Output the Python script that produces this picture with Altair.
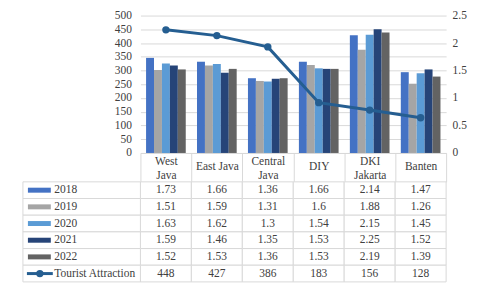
import altair as alt
import pandas as pd

# ---------------- data ----------------
cats = ["West Java", "East Java", "Central Java", "DIY", "DKI Jakarta", "Banten"]
header_lines = [["West", "Java"], ["East Java"], ["Central", "Java"], ["DIY"], ["DKI", "Jakarta"], ["Banten"]]
series_names = ["2018", "2019", "2020", "2021", "2022"]
v2018 = [1.73, 1.66, 1.36, 1.66, 2.14, 1.47]
v2019 = [1.51, 1.59, 1.31, 1.6, 1.88, 1.26]
v2020 = [1.63, 1.62, 1.3, 1.54, 2.15, 1.45]
v2021 = [1.59, 1.46, 1.35, 1.53, 2.25, 1.52]
v2022 = [1.52, 1.53, 1.36, 1.53, 2.19, 1.39]
line_name = "Tourist Attraction"
tourist = [448, 427, 386, 183, 156, 128]

bar_colors = ["#4472C4", "#A5A5A5", "#5B9BD5", "#264478", "#636363"]
line_color = "#255E91"

# ---------------- frames ----------------
series_vals = dict(zip(series_names, [v2018, v2019, v2020, v2021, v2022]))
bars_df = pd.DataFrame([{"cat": c, "series": s, "value": v}
                        for s in series_names for c, v in zip(cats, series_vals[s])])
line_df = pd.DataFrame({"cat": cats, "value": tourist})
rows_order = series_names + [line_name]
table_df = pd.DataFrame(
    [{"cat": c, "series": s, "text": str(v)} for s in series_names for c, v in zip(cats, series_vals[s])]
    + [{"cat": c, "series": line_name, "text": str(v)} for c, v in zip(cats, tourist)]
)
rows_df = pd.DataFrame({"series": rows_order})
sw_df = pd.DataFrame({"series": series_names})
tsw_df = pd.DataFrame({"series": [line_name]})

# ---------------- style ----------------
FONT = "Liberation Serif"
FS = 11.5
TXT = "#404040"
GRID = "#d9d9d9"
W, H = 307, 138
HDR = 29
ROW_H = 16.75
table_range = [H + HDR, H + HDR + ROW_H * len(rows_order)]

def _lbl(lines):
    if len(lines) == 1:
        return "'" + lines[0] + "'"
    return "[" + ",".join("'" + t + "'" for t in lines) + "]"

label_expr = ""
for c, lines in zip(cats, header_lines):
    label_expr += "datum.label == '" + c + "' ? " + _lbl(lines) + " : "
label_expr += "datum.label"

two_line = [c for c, lines in zip(cats, header_lines) if len(lines) > 1]
two_line_test = " || ".join("datum.value == '" + c + "'" for c in two_line)

xscale = alt.Scale(domain=cats, paddingInner=0, paddingOuter=0)
xaxis = alt.Axis(title=None, labelAngle=0, labelExpr=label_expr, labelFont=FONT, labelFontSize=FS,
                 labelColor=TXT,
                 labelBaseline={"condition": {"test": two_line_test, "value": "bottom"}, "value": "middle"},
                 labelLineHeight=14, labelPadding=-15,
                 tickBand="extent", tickSize=HDR, tickColor=GRID, domainColor=GRID, grid=False)
x_enc = alt.X("cat:N", sort=cats, scale=xscale, axis=xaxis)
color_scale = alt.Scale(domain=series_names, range=bar_colors)

bars = alt.Chart(bars_df).mark_bar().encode(
    x=x_enc,
    xOffset=alt.XOffset("series:N", sort=series_names,
                        scale=alt.Scale(paddingInner=0, paddingOuter=0.71)),
    y=alt.Y("value:Q", scale=alt.Scale(domain=[0, 2.5], nice=False),
            axis=alt.Axis(orient="right", values=[0, 0.5, 1, 1.5, 2, 2.5], format=".1~f", title=None,
                          grid=False, domain=False, ticks=False, labelPadding=6,
                          labelFont=FONT, labelFontSize=FS, labelColor=TXT)),
    color=alt.Color("series:N", scale=color_scale, legend=None),
)

line_y = alt.Y("value:Q", scale=alt.Scale(domain=[0, 500], nice=False),
               axis=alt.Axis(orient="left", values=list(range(0, 501, 50)), title=None, grid=True,
                             gridColor=GRID, domain=False, ticks=False, labelPadding=9,
                             labelFont=FONT, labelFontSize=FS, labelColor=TXT))
line = alt.Chart(line_df).mark_line(color=line_color, strokeWidth=3).encode(x=x_enc, y=line_y)
pts = alt.Chart(line_df).mark_point(filled=True, size=55, color=line_color, opacity=1).encode(x=x_enc, y=line_y)
line_layer = alt.layer(line, pts)

y_tab = alt.Y("series:N", sort=rows_order,
              scale=alt.Scale(domain=rows_order, range=table_range, paddingInner=0, paddingOuter=0),
              axis=None)

cells = alt.Chart(table_df).mark_rect(fill="white", stroke=GRID, strokeWidth=1).encode(x=x_enc, y=y_tab)
label_cells = alt.Chart(rows_df).mark_rect(fill="white", stroke=GRID, strokeWidth=1).encode(
    x=alt.value(-118), x2=alt.value(0), y=y_tab)
swatches = alt.Chart(sw_df).mark_rule(strokeWidth=5).encode(
    x=alt.value(-113), x2=alt.value(-90), y=y_tab,
    color=alt.Color("series:N", scale=color_scale, legend=None))
tsw_line = alt.Chart(tsw_df).mark_rule(strokeWidth=3, color=line_color).encode(
    x=alt.value(-114), x2=alt.value(-88), y=y_tab)
tsw_pt = alt.Chart(tsw_df).mark_point(filled=True, size=55, color=line_color, opacity=1).encode(
    x=alt.value(-101), y=y_tab)
row_text = alt.Chart(rows_df).mark_text(align="left", baseline="middle", font=FONT, fontSize=FS, color=TXT).encode(
    x=alt.value(-86.5), y=y_tab, text="series:N")
val_text = alt.Chart(table_df).mark_text(align="center", baseline="middle", font=FONT, fontSize=FS, color=TXT).encode(
    x=x_enc, y=y_tab, text="text:N")

table_layer = alt.layer(cells, label_cells, swatches, tsw_line, tsw_pt, row_text, val_text)

chart = alt.layer(bars, line_layer, table_layer).resolve_scale(y="independent").properties(
    width=W, height=H,
    padding={"left": 14, "top": 1, "right": 5, "bottom": 0},
    background="white",
).configure_view(stroke=None)

chart.save("out.html", embed_options={"renderer": "svg", "actions": False})
